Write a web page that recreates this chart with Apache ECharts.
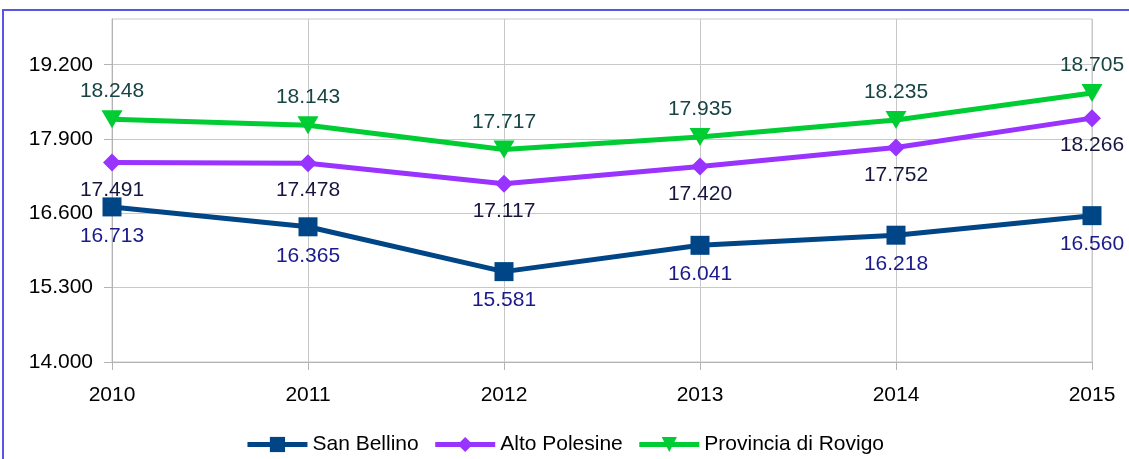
<!DOCTYPE html>
<html>
<head>
<meta charset="utf-8">
<script src="https://cdn.jsdelivr.net/npm/echarts@6/dist/echarts.min.js"></script>
<style>html,body{margin:0;padding:0;background:#fff}#c{width:1129px;height:459px}</style>
</head>
<body>
<div id="c"></div>
<script>
const years = ['2010', '2011', '2012', '2013', '2014', '2015'];
const sanBellino = [16713, 16365, 15581, 16041, 16218, 16560];
const altoPolesine = [17491, 17478, 17117, 17420, 17752, 18266];
const provinciaRovigo = [18248, 18143, 17717, 17935, 18235, 18705];
const yTicks = [14000, 15300, 16600, 17900, 19200];
const seriesNames = ['San Bellino', 'Alto Polesine', 'Provincia di Rovigo'];
const titleText = 'Importo medio del reddito negli anni (euro per contribuente, 2010-2015)';

function fmt(v) {
  return String(Math.round(v)).replace(/\B(?=(\d{3})+(?!\d))/g, '.');
}

const FONT = 'Liberation Sans';
const FS = 21;
const chart = echarts.init(document.getElementById('c'), null, {renderer: 'canvas'});

function mkSeries(name, data, color, symbol, size, labelColor, pos, dist) {
  return {
    name: name, type: 'line', data: data,
    symbol: symbol, symbolSize: size,
    lineStyle: {color: color, width: 5},
    itemStyle: {color: color},
    label: {
      show: true, position: pos, distance: dist,
      color: labelColor, fontFamily: FONT, fontSize: FS,
      formatter: p => fmt(p.value)
    },
    emphasis: {disabled: true},
    animation: false
  };
}

chart.setOption({
  animation: false,
  graphic: [{
    type: 'text', silent: true, x: 95, y: 0,
    style: {text: titleText, font: 'bold 20px "Liberation Sans"', fill: '#000', verticalAlign: 'bottom'}
  }, {
    type: 'rect', z: 100, silent: true,
    shape: {x: 3, y: 10, width: 1140, height: 470},
    style: {fill: 'none', stroke: '#5757e6', lineWidth: 2}
  }],
  grid: {left: 112, right: 37, top: 19, bottom: 97, show: true, borderColor: '#c8c8c8', borderWidth: 1, backgroundColor: 'transparent'},
  legend: {
    bottom: -1, left: 'center',
    itemWidth: 60, itemHeight: 19, itemGap: 14,
    lineStyle: {width: 5},
    textStyle: {fontFamily: FONT, fontSize: 21, color: '#000'},
    data: seriesNames
  },
  xAxis: {
    type: 'category', data: years, boundaryGap: false,
    axisLine: {lineStyle: {color: '#b3b3b3'}},
    axisTick: {show: true, length: 8, lineStyle: {color: '#b3b3b3'}},
    axisLabel: {fontFamily: FONT, fontSize: FS, color: '#000', margin: 23},
    splitLine: {show: true, lineStyle: {color: '#c8c8c8'}}
  },
  yAxis: {
    type: 'value', min: 14000, max: 20000,
    axisLine: {show: true, lineStyle: {color: '#b3b3b3'}},
    axisTick: {show: true, length: 8, customValues: yTicks, lineStyle: {color: '#b3b3b3'}},
    axisLabel: {fontFamily: FONT, fontSize: FS, color: '#000', margin: 19, customValues: yTicks, formatter: v => fmt(v)},
    splitLine: {show: true, lineStyle: {color: '#c8c8c8'}}
  },
  series: [
    mkSeries(seriesNames[0], sanBellino, '#004586', 'rect', 19, '#1a1a8c', 'bottom', 9),
    mkSeries(seriesNames[1], altoPolesine, '#9933ff', 'diamond', 18, '#161640', 'bottom', 8),
    mkSeries(seriesNames[2], provinciaRovigo, '#00cc33', 'path://M0,0 L20,0 L10,18 Z', [21, 18], '#174545', 'top', 8)
  ]
});
</script>
</body>
</html>
